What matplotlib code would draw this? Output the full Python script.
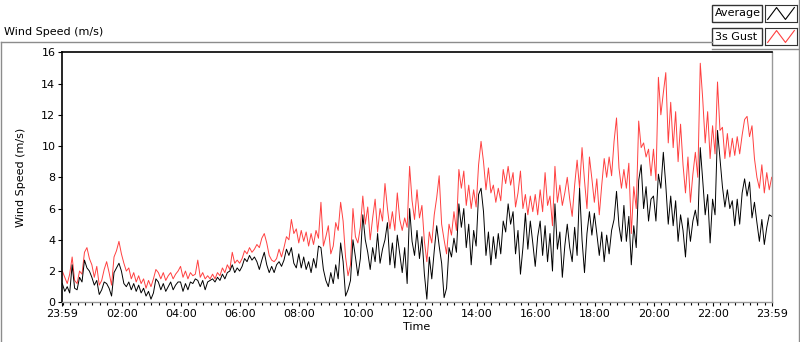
import numpy as np
import matplotlib.pyplot as plt
from matplotlib.lines import Line2D
from matplotlib.patches import Rectangle

# minutes after 23:59, one reading every 5 minutes (one row per hour)
step_min = 5

gust = [
    2.0, 1.6, 1.2, 1.8, 2.9, 1.4, 1.2, 2.0, 1.8, 3.2, 3.5, 2.8,
    2.4, 1.6, 2.3, 1.1, 1.4, 2.1, 2.6, 1.9, 1.1, 2.9, 3.3, 3.9,
    3.1, 2.5, 2.0, 2.2, 1.5, 1.9, 1.3, 1.7, 1.2, 1.5, 0.9, 1.4,
    1.0, 1.5, 2.1, 1.9, 1.5, 1.9, 1.4, 1.7, 1.9, 1.5, 1.8, 2.0,
    2.3, 1.6, 2.0, 1.5, 1.9, 1.7, 1.8, 2.7, 1.6, 1.9, 1.5, 1.7,
    1.5, 1.8, 1.5, 1.9, 1.7, 2.2, 1.9, 2.4, 2.1, 3.2, 2.5, 2.7,
    2.5, 2.8, 3.3, 3.1, 3.5, 3.2, 3.4, 3.7, 3.5, 4.1, 4.4, 3.8,
    3.0, 2.7, 2.6, 2.8, 3.4, 2.9, 3.5, 4.2, 4.0, 5.3, 4.4, 4.7,
    3.8, 4.6, 3.9, 4.5, 3.6, 4.4, 3.7, 4.6, 4.1, 6.4, 3.6, 4.2,
    4.9, 3.1, 3.6, 5.1, 4.6, 6.4, 5.2, 2.9, 1.7, 2.4, 6.0, 4.2,
    3.8, 4.8, 6.8, 5.0, 6.1, 4.0, 5.4, 6.6, 4.5, 6.0, 5.2, 7.6,
    6.0, 4.7, 5.8, 4.6, 7.0, 5.3, 4.6, 5.4, 4.8, 8.7, 6.5, 5.3,
    7.2, 5.4, 6.2, 3.9, 2.6, 4.5, 3.8, 5.6, 6.7, 8.1, 5.0, 4.0,
    3.1, 5.0, 4.3, 5.8, 4.6, 8.5, 7.3, 8.4, 6.2, 7.5, 6.0, 7.2,
    6.1, 8.8, 10.3, 9.0, 7.2, 8.6, 7.0, 7.5, 6.4, 7.3, 6.5, 8.5,
    7.6, 8.7, 7.5, 8.3, 6.1, 7.0, 8.4, 6.0, 6.9, 5.6, 6.8, 5.8,
    6.9, 5.6, 7.2, 5.8, 8.3, 6.2, 6.8, 4.9, 8.7, 6.4, 7.5, 6.2,
    7.0, 8.0, 6.6, 5.5, 7.5, 9.1, 7.3, 9.9, 7.8, 6.0, 9.3, 7.9,
    6.4, 7.9, 5.6, 7.5, 9.2, 8.0, 9.3, 8.1, 10.3, 11.8, 8.6, 7.3,
    8.5, 7.3, 8.9, 4.4, 7.4, 6.0, 11.6, 9.9, 10.2, 9.3, 9.8, 8.1,
    9.8, 7.8, 14.4, 12.0, 13.4, 14.7, 10.2, 12.8, 9.9, 12.2, 9.0, 11.4,
    8.8, 7.0, 9.3, 6.4, 8.2, 9.6, 8.0, 15.3, 13.0, 10.2, 12.2, 9.2,
    11.3, 9.5, 14.1, 11.0, 11.2, 9.2, 10.8, 9.3, 10.5, 9.4, 10.6, 9.5,
    10.7, 11.7, 11.9, 10.6, 11.3, 9.2, 8.0, 7.3, 8.8, 7.0, 8.3, 7.2,
    8.0,
]

average = [
    1.2, 0.7, 1.0, 0.6, 2.4, 0.9, 0.8, 1.6, 1.3, 2.7, 2.2, 2.0,
    1.6, 1.1, 1.4, 0.5, 0.8, 1.3, 1.2, 0.9, 0.4, 1.9, 2.2, 2.5,
    2.0, 1.2, 1.0, 1.3, 0.8, 1.2, 0.7, 1.1, 0.6, 0.9, 0.4, 0.7,
    0.2, 0.6, 1.5, 1.3, 0.8, 1.2, 0.7, 1.0, 1.3, 0.8, 1.1, 1.3,
    1.3, 0.7, 1.2, 0.8, 1.3, 1.2, 1.5, 1.4, 1.0, 1.4, 0.8, 1.3,
    1.4, 1.5, 1.3, 1.6, 1.4, 1.8, 1.5, 1.9, 2.0, 2.4, 1.9, 2.2,
    2.0, 2.3, 2.8, 2.6, 3.0, 2.7, 2.9, 2.6, 2.1, 2.7, 3.2, 2.4,
    1.9, 2.3, 1.9, 2.4, 2.6, 2.3, 2.7, 3.4, 3.0, 3.5, 2.5, 2.2,
    3.1, 2.2, 2.9, 2.1, 2.6, 1.9, 2.8, 2.2, 3.6, 3.5, 2.1, 1.4,
    1.0, 1.9, 1.2, 2.4, 1.5, 3.8, 2.6, 0.4, 0.8, 1.4, 4.0, 2.9,
    1.7, 2.8, 5.6, 4.0, 3.2, 2.1, 3.5, 2.6, 4.4, 2.5, 3.4, 4.0,
    5.1, 2.4, 3.8, 2.2, 4.3, 3.1, 1.9, 3.5, 1.2, 6.0, 3.9, 3.0,
    4.6, 2.8, 4.2, 1.8, 0.2, 2.9, 1.5, 3.3, 4.9, 3.6, 2.5, 0.3,
    0.9, 3.5, 2.9, 4.1, 3.2, 6.3, 4.8, 6.0, 3.5, 5.0, 2.4, 4.6,
    3.6, 6.9, 7.3, 5.8, 3.0, 4.5, 2.4, 4.2, 2.8, 4.4, 3.1, 5.2,
    4.5, 6.3, 5.0, 5.8, 3.1, 4.6, 1.8, 3.5, 5.7, 3.4, 5.2, 3.8,
    2.3, 4.2, 5.2, 3.0, 4.9, 2.6, 4.4, 2.0, 6.3, 3.4, 4.5, 1.6,
    3.6, 5.0, 3.5, 2.6, 4.8, 3.0, 7.3, 4.0, 1.9, 4.4, 5.8, 4.3,
    5.7, 4.4, 3.0, 4.5, 2.6, 4.3, 3.1, 4.6, 5.3, 7.1, 4.9, 3.9,
    6.2, 3.9, 5.5, 2.4, 4.9, 3.5, 7.8, 8.8, 6.0, 7.4, 5.2, 6.6,
    6.8, 5.2, 8.2, 7.3, 9.6, 7.5, 5.0, 6.8, 4.9, 6.5, 3.9, 5.6,
    4.6, 2.9, 5.4, 3.9, 5.2, 5.9, 4.9, 9.9, 7.8, 5.6, 6.9, 3.8,
    6.6, 5.6, 11.0, 9.2, 7.4, 6.1, 7.2, 6.0, 6.5, 4.9, 6.6, 5.0,
    7.0, 7.9, 6.8, 7.7, 5.4, 6.4, 5.1, 3.9, 5.3, 3.7, 4.8, 5.6,
    5.5,
]

tick_labels = ['23:59', '02:00', '04:00', '06:00', '08:00', '10:00', '12:00',
               '14:00', '16:00', '18:00', '20:00', '22:00', '23:59']
tick_pos = [0, 121, 241, 361, 481, 601, 721, 841, 961, 1081, 1201, 1321, 1440]

W, H = 800, 342
fx = lambda x: x / W
fy = lambda y: 1 - y / H

fig = plt.figure(figsize=(8, 3.42), dpi=100)
fig.patch.set_facecolor('white')

ax = fig.add_axes([fx(62.3), fy(302.3), (771.7 - 62.3) / W, (302.3 - 52.3) / H])
t = np.arange(len(gust)) * step_min
ax.plot(t, gust, color='#ff4040', lw=0.7)
ax.plot(t, average, color='black', lw=0.7)

ax.set_xlim(0, 1440)
ax.set_ylim(0, 16)
ax.set_xticks(tick_pos)
ax.set_xticklabels(tick_labels)
ax.set_xticks(np.arange(1, 1440, 15), minor=True)
ax.set_yticks(range(0, 17, 2))
ax.tick_params(axis='both', labelsize=8, length=3, width=0.8, pad=2)
ax.tick_params(axis='x', which='minor', length=2, width=0.8)
ax.set_xlabel('Time', fontsize=8, labelpad=2)
ax.set_ylabel('Wind Speed (m/s)', fontsize=8, labelpad=11)
for s in ['left', 'top']:
    ax.spines[s].set_color('black')
    ax.spines[s].set_linewidth(1.2)
for s in ['right', 'bottom']:
    ax.spines[s].set_color('#999999')
    ax.spines[s].set_linewidth(1.0)

# outer panel frame
frame = dict(color='#8c8c8c', lw=1.0, transform=fig.transFigure)
fig.add_artist(Line2D([fx(0.5), fx(712)], [fy(42), fy(42)], **frame))
fig.add_artist(Line2D([fx(0.5), fx(0.5)], [fy(42), fy(342)], **frame))
fig.add_artist(Line2D([fx(712), fx(799)], [fy(49), fy(49)], **frame))
fig.add_artist(Line2D([fx(798.5), fx(798.5)], [fy(0), fy(342)], **frame))

fig.text(fx(4), fy(32), 'Wind Speed (m/s)', fontsize=8, va='center', ha='left')

# legend
for row, (name, col) in enumerate([('Average', 'black'), ('3s Gust', '#ff4040')]):
    y0 = 5 + row * 23
    fig.add_artist(Rectangle((fx(712), fy(y0 + 17)), 50 / W, 17 / H, transform=fig.transFigure,
                             facecolor='white', edgecolor='#333333', lw=1.0))
    fig.text(fx(715), fy(y0 + 8.5), name, fontsize=8, va='center', ha='left')
    ic = fig.add_axes([fx(765), fy(y0 + 17), 32 / W, 17 / H])
    ic.plot([0, 1, 2, 3], [0.15, 0.85, 0.15, 0.85], color=col, lw=0.8)
    ic.set_xlim(-0.3, 3.3)
    ic.set_ylim(0, 1)
    ic.set_xticks([])
    ic.set_yticks([])
    for s in ic.spines.values():
        s.set_color('#333333')

fig.savefig('out.png', dpi=100)
